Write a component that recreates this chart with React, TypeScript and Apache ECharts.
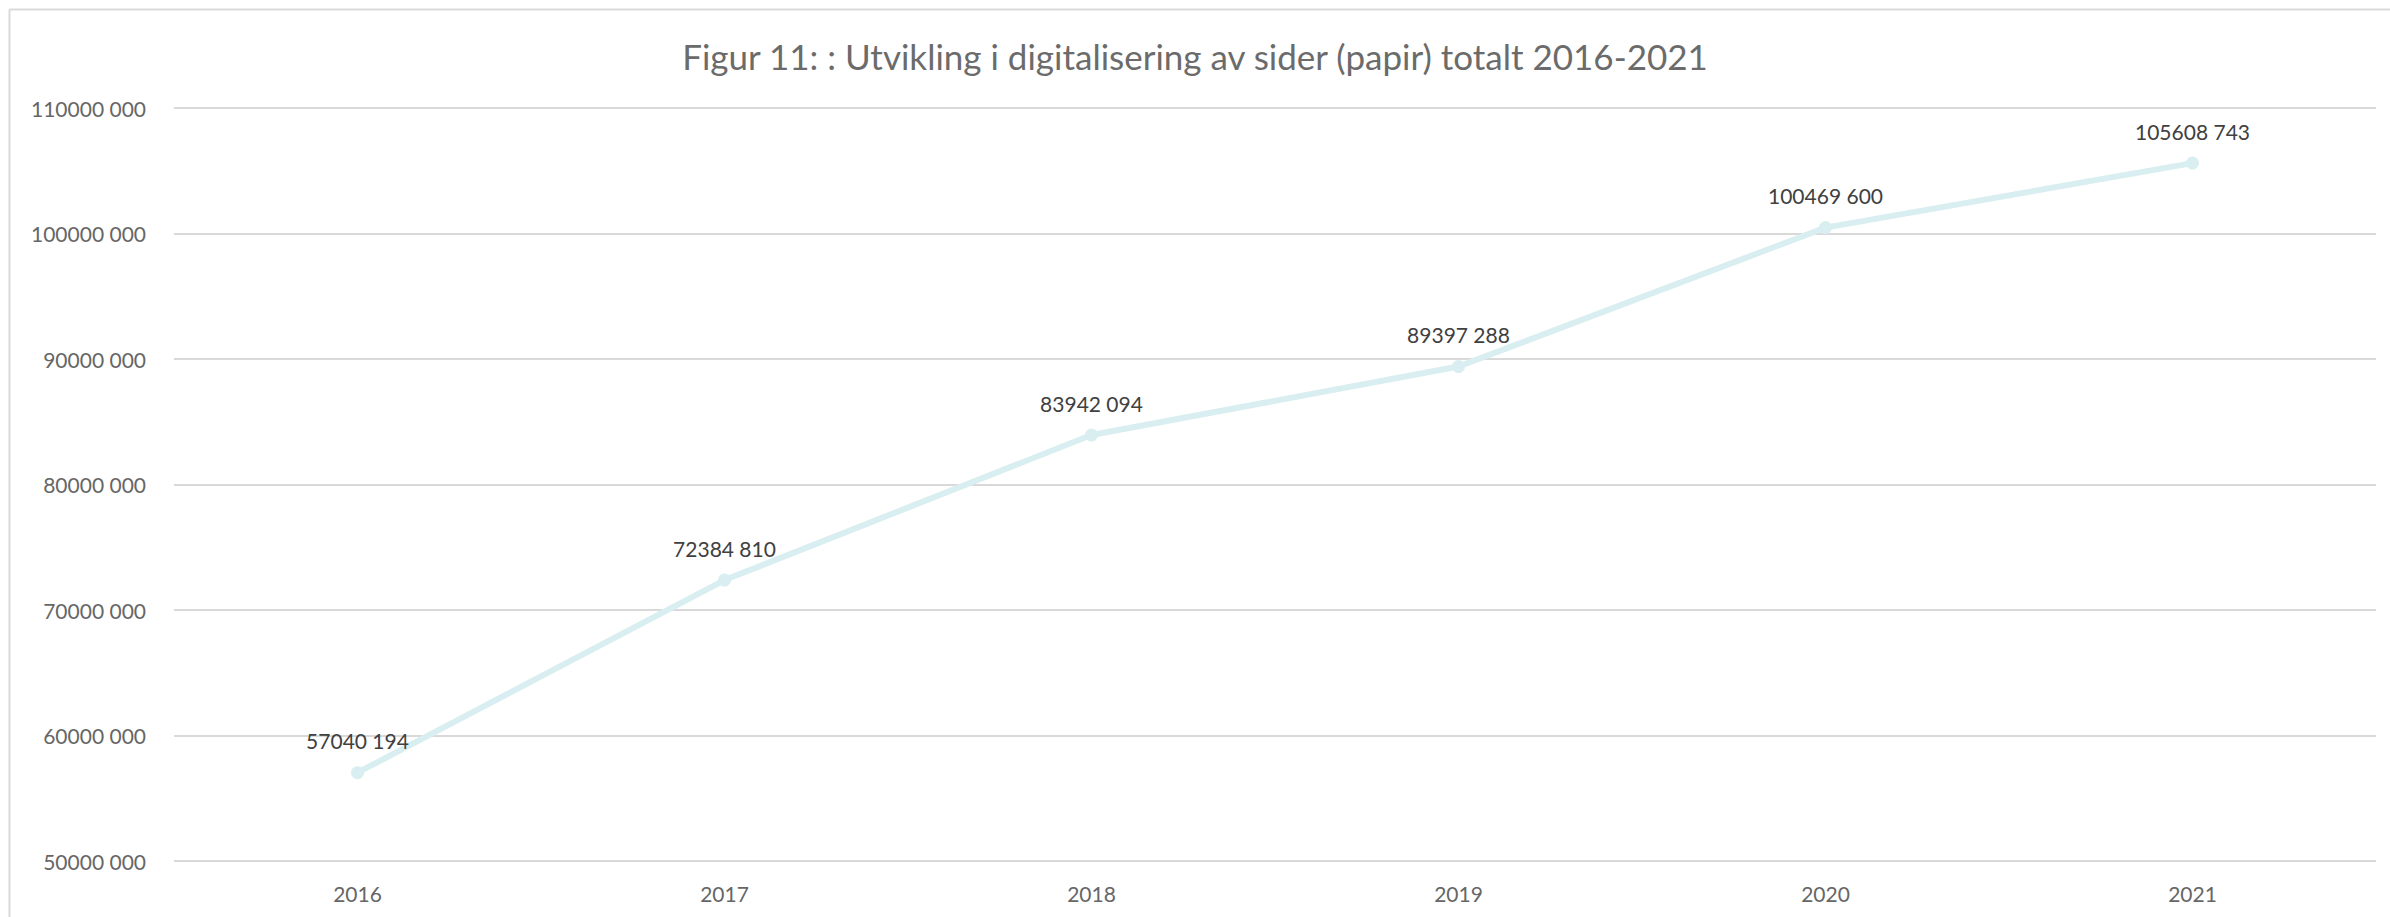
import React, { useEffect, useRef } from "react";
import * as echarts from "echarts";

const TITLE = "Figur 11: : Utvikling i digitalisering av sider (papir) totalt 2016-2021";
const years = ["2016", "2017", "2018", "2019", "2020", "2021"];
const pages = [57040194, 72384810, 83942094, 89397288, 100469600, 105608743];
const yMin = 50000000;
const yMax = 110000000;
const yStep = 10000000;

const fmt = (v: number) => {
  const hi = Math.floor(v / 1000);
  const lo = String(Math.round(v % 1000)).padStart(3, "0");
  return `${hi} ${lo}`;
};

export default function App() {
  const ref = useRef<HTMLDivElement>(null);
  useEffect(() => {
    document.body.style.margin = "0";
    const chart = echarts.init(ref.current!, undefined, { renderer: "svg" });
    const font = "Lato, 'Open Sans', sans-serif";
    chart.setOption({
      animation: false,
      backgroundColor: "#ffffff",
      textStyle: { fontFamily: font },
      title: {
        text: TITLE,
        left: "center",
        top: 33,
        textStyle: { fontFamily: font, fontSize: 35, fontWeight: "normal", color: "#6b6b6b" },
      },
      graphic: [
        { type: "line", shape: { x1: 9.5, y1: 9.5, x2: 2390, y2: 9.5 }, style: { stroke: "#d9d9d9", lineWidth: 2 } },
        { type: "line", shape: { x1: 9.5, y1: 9.5, x2: 9.5, y2: 917 }, style: { stroke: "#d9d9d9", lineWidth: 2 } },
      ],
      grid: { left: 174, right: 14, top: 108, bottom: 56, containLabel: false },
      xAxis: {
        type: "category",
        data: years,
        boundaryGap: true,
        axisLine: { show: false },
        axisTick: { show: false },
        axisLabel: { color: "#666666", fontSize: 21, margin: 22, fontFamily: font },
      },
      yAxis: {
        type: "value",
        min: yMin,
        max: yMax,
        interval: yStep,
        axisLine: { show: false },
        axisTick: { show: false },
        splitLine: { lineStyle: { color: "#d9d9d9", width: 2 } },
        axisLabel: { color: "#666666", fontSize: 21, margin: 28, formatter: (v: number) => fmt(v), fontFamily: font },
      },
      series: [
        {
          type: "line",
          data: pages,
          symbol: "circle",
          symbolSize: 13,
          lineStyle: { color: "#d9eef0", width: 6 },
          itemStyle: { color: "#d9eef0" },
          label: {
            show: true,
            position: "top",
            distance: 15,
            color: "#404040",
            fontSize: 21,
            fontFamily: font,
            formatter: (p: any) => fmt(p.value),
          },
        },
      ],
    });
    return () => chart.dispose();
  }, []);
  return <div ref={ref} style={{ width: 2390, height: 917 }} />;
}
